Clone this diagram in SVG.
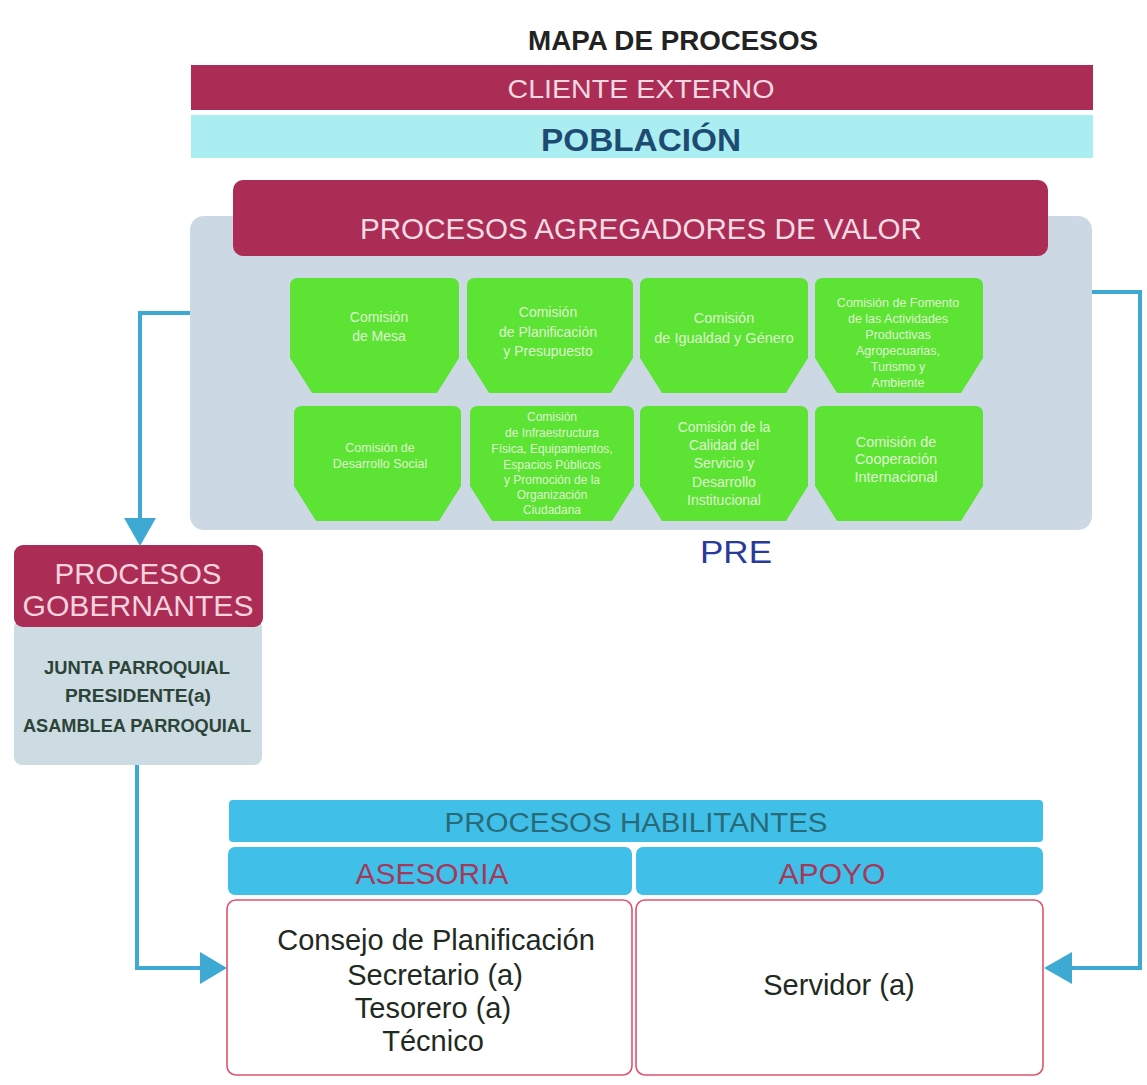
<svg xmlns="http://www.w3.org/2000/svg" width="1147" height="1085" viewBox="0 0 1147 1085">
<defs>
<style>
.t{font-family:"Liberation Sans",Arial,sans-serif;text-anchor:middle}
.crim{fill:#ab2c55}
.gtxt{font-family:"Liberation Sans",Arial,sans-serif;text-anchor:middle;fill:#dff5cf}
.green{fill:#5ce333}
.conn{fill:none;stroke:#3eaad3;stroke-width:4;stroke-linejoin:miter}
.head{fill:#3eaad3}
.box{fill:#ffffff;stroke:#e0536d;stroke-width:1.6}
.blk{fill:#1f2a22}
.gov{font-family:"Liberation Sans",Arial,sans-serif;text-anchor:middle;font-size:17.5px;font-weight:bold;fill:#2c4438}
.govh{font-family:"Liberation Sans",Arial,sans-serif;text-anchor:middle;font-size:29px;fill:#f5d3de}
</style>
</defs>
<rect width="1147" height="1085" fill="#ffffff"/>

<g id="title"><text class="t" x="673" y="50" font-size="28" font-weight="bold" fill="#222" textLength="290" lengthAdjust="spacingAndGlyphs">MAPA DE PROCESOS</text></g>

<g id="cliente-externo">
<rect class="crim" x="191" y="65" width="902" height="45"/>
<text class="t" x="641" y="98" font-size="26" fill="#f2d8e0" textLength="267" lengthAdjust="spacingAndGlyphs">CLIENTE EXTERNO</text>
</g>
<g id="poblacion">
<rect x="191" y="115" width="902" height="43" fill="#aaeef2"/>
<text class="t" x="641" y="151" font-size="32" font-weight="bold" fill="#1d4b72" textLength="200" lengthAdjust="spacingAndGlyphs">POBLACIÓN</text>
</g>

<g id="panel-agregadores">
<rect x="190" y="216" width="902" height="314" rx="14" fill="#ccd9e4"/>
<rect class="crim" x="233" y="180" width="815" height="76" rx="10"/>
<text class="t" x="641" y="239" font-size="30" fill="#f3dbe3" textLength="562" lengthAdjust="spacingAndGlyphs">PROCESOS AGREGADORES DE VALOR</text>
</g>

<g id="com-mesa">
<path class="green" d="M298,278 H451 Q459,278 459,286 V358 L437,393 H312 L290,358 V286 Q290,278 298,278 Z"/>
<text class="gtxt" font-size="14"><tspan x="379" y="322">Comisión</tspan><tspan x="379" y="341">de Mesa</tspan></text>
</g>
<g id="com-planificacion">
<path class="green" d="M475,278 H625 Q633,278 633,286 V358 L611,393 H489 L467,358 V286 Q467,278 475,278 Z"/>
<text class="gtxt" font-size="14"><tspan x="548" y="317">Comisión</tspan><tspan x="548" y="337">de Planificación</tspan><tspan x="548" y="356">y Presupuesto</tspan></text>
</g>
<g id="com-igualdad">
<path class="green" d="M648,278 H800 Q808,278 808,286 V358 L786,393 H662 L640,358 V286 Q640,278 648,278 Z"/>
<text class="gtxt" font-size="14.5"><tspan x="724" y="323">Comisión</tspan><tspan x="724" y="343">de Igualdad y Género</tspan></text>
</g>
<g id="com-fomento">
<path class="green" d="M823,278 H975 Q983,278 983,286 V358 L961,393 H837 L815,358 V286 Q815,278 823,278 Z"/>
<text class="gtxt" font-size="12.5"><tspan x="898" y="307">Comisión de Fomento</tspan><tspan x="898" y="323">de las Actividades</tspan><tspan x="898" y="339">Productivas</tspan><tspan x="898" y="355">Agropecuarias,</tspan><tspan x="898" y="371">Turismo y</tspan><tspan x="898" y="387">Ambiente</tspan></text>
</g>

<g id="com-desarrollo-social">
<path class="green" d="M302,406 H453 Q461,406 461,414 V486 L439,521 H316 L294,486 V414 Q294,406 302,406 Z"/>
<text class="gtxt" font-size="12.5"><tspan x="380" y="452">Comisión de</tspan><tspan x="380" y="468">Desarrollo Social</tspan></text>
</g>
<g id="com-infraestructura">
<path class="green" d="M478,406 H626 Q634,406 634,414 V486 L612,521 H492 L470,486 V414 Q470,406 478,406 Z"/>
<text class="gtxt" font-size="12"><tspan x="552" y="421">Comisión</tspan><tspan x="552" y="437">de Infraestructura</tspan><tspan x="552" y="453">Física, Equipamientos,</tspan><tspan x="552" y="469">Espacios Públicos</tspan><tspan x="552" y="484">y Promoción de la</tspan><tspan x="552" y="499">Organización</tspan><tspan x="552" y="514">Ciudadana</tspan></text>
</g>
<g id="com-calidad">
<path class="green" d="M648,406 H800 Q808,406 808,414 V486 L786,521 H662 L640,486 V414 Q640,406 648,406 Z"/>
<text class="gtxt" font-size="14"><tspan x="724" y="432">Comisión de la</tspan><tspan x="724" y="450">Calidad del</tspan><tspan x="724" y="468">Servicio y</tspan><tspan x="724" y="487">Desarrollo</tspan><tspan x="724" y="505">Institucional</tspan></text>
</g>
<g id="com-cooperacion">
<path class="green" d="M823,406 H975 Q983,406 983,414 V486 L961,521 H837 L815,486 V414 Q815,406 823,406 Z"/>
<text class="gtxt" font-size="14.5"><tspan x="896" y="447">Comisión de</tspan><tspan x="896" y="464">Cooperación</tspan><tspan x="896" y="482">Internacional</tspan></text>
</g>

<g id="annotation"><text x="700" y="563" font-family="'Liberation Sans',sans-serif" font-size="32" fill="#2a3a9a" textLength="72" lengthAdjust="spacingAndGlyphs">PRE</text></g>

<g id="procesos-gobernantes">
<rect x="14" y="620" width="248" height="145" rx="8" fill="#cddbe2"/>
<rect class="crim" x="14" y="545" width="249" height="82" rx="9"/>
<text class="govh" x="138" y="584" textLength="167" lengthAdjust="spacingAndGlyphs">PROCESOS</text>
<text class="govh" x="138" y="616" textLength="231" lengthAdjust="spacingAndGlyphs">GOBERNANTES</text>
<text class="gov" x="137" y="674" textLength="186" lengthAdjust="spacingAndGlyphs">JUNTA PARROQUIAL</text>
<text class="gov" x="138" y="702" textLength="146" lengthAdjust="spacingAndGlyphs">PRESIDENTE(a)</text>
<text class="gov" x="137" y="732" textLength="228" lengthAdjust="spacingAndGlyphs">ASAMBLEA PARROQUIAL</text>
</g>

<g id="procesos-habilitantes">
<rect x="229" y="800" width="814" height="42" rx="4" fill="#40c0e8"/>
<text class="t" x="636" y="832" font-size="27" fill="#2a6a78" textLength="383" lengthAdjust="spacingAndGlyphs">PROCESOS HABILITANTES</text>
</g>
<g id="asesoria">
<rect x="228" y="847" width="404" height="48" rx="7" fill="#40c0e8"/>
<text class="t" x="432" y="884" font-size="30" fill="#a33a5c" textLength="153" lengthAdjust="spacingAndGlyphs">ASESORIA</text>
<rect class="box" x="227" y="900" width="405" height="175" rx="9"/>
<text class="t blk" font-size="29"><tspan x="436" y="950">Consejo de Planificación</tspan><tspan x="435" y="985">Secretario (a)</tspan><tspan x="433" y="1018">Tesorero (a)</tspan><tspan x="433" y="1051">Técnico</tspan></text>
</g>
<g id="apoyo">
<rect x="636" y="847" width="407" height="48" rx="7" fill="#40c0e8"/>
<text class="t" x="832" y="884" font-size="30" fill="#a33a5c" textLength="107" lengthAdjust="spacingAndGlyphs">APOYO</text>
<rect class="box" x="636" y="900" width="407" height="175" rx="9"/>
<text class="t blk" x="839" y="995" font-size="29">Servidor (a)</text>
</g>

<g id="connectors">
<polyline class="conn" points="190,313 140,313 140,522"/>
<polygon class="head" points="124,518 156,518 140,546"/>
<polyline class="conn" points="137,765 137,968 204,968"/>
<polygon class="head" points="200,952 200,984 227,968"/>
<polyline class="conn" points="1092,292 1140,292 1140,968 1068,968"/>
<polygon class="head" points="1072,952 1072,984 1044,968"/>
</g>
</svg>
